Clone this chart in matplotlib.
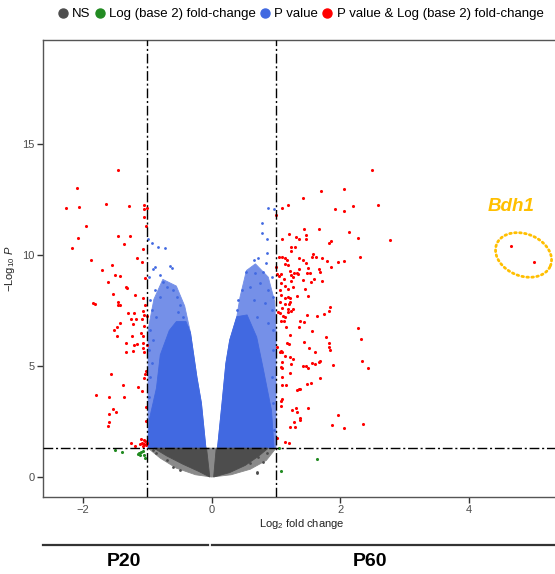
import numpy as np
import matplotlib.pyplot as plt
from matplotlib.lines import Line2D

plt.rcParams["font.family"] = ["Liberation Sans", "DejaVu Sans"]
plt.rcParams["mathtext.fontset"] = "custom"
plt.rcParams["mathtext.rm"] = "Liberation Sans"
plt.rcParams["mathtext.it"] = "Liberation Sans:italic"

# cut-offs
fc_cut = 1.0
p_cut = -np.log10(0.05)

# significant by both (red): (log2FC, -log10 P)
red_left = np.array([
    (-1.46, 13.81), (-2.10, 13.01), (-2.26, 12.11), (-2.07, 12.16), (-1.64, 12.31),
    (-1.28, 12.21), (-1.06, 12.26), (-1.06, 12.06), (-1.01, 12.11), (-1.05, 11.71),
    (-1.02, 11.31), (-1.95, 11.31), (-2.08, 10.76), (-1.45, 10.86), (-1.27, 10.86),
    (-1.37, 10.51), (-2.18, 10.31), (-1.07, 10.26), (-1.16, 9.88), (-1.87, 9.79),
    (-1.08, 9.70), (-1.55, 9.56), (-1.71, 9.32), (-1.50, 9.08), (-1.43, 9.05),
    (-1.03, 8.96), (-1.61, 8.80), (-1.34, 8.54), (-1.31, 8.53), (-1.54, 8.24),
    (-1.19, 8.20), (-1.07, 8.08), (-1.45, 7.90), (-1.84, 7.85), (-1.81, 7.78),
    (-1.45, 7.73), (-1.42, 7.73), (-1.03, 7.73), (-1.07, 7.49), (-1.30, 7.37),
    (-1.21, 7.37), (-1.05, 7.30), (-1.01, 7.25), (-1.25, 7.12), (-1.17, 7.12),
    (-1.09, 7.12), (-1.23, 6.89), (-1.43, 6.94), (-1.05, 6.79), (-1.47, 6.74),
    (-1.52, 6.61), (-1.10, 6.50), (-1.47, 6.37), (-1.24, 6.35), (-1.07, 6.35),
    (-1.33, 6.05), (-1.21, 5.96), (-1.16, 5.99), (-1.07, 6.02), (-1.00, 5.96),
    (-1.07, 5.80), (-1.23, 5.69), (-1.33, 5.64), (-1.05, 5.62), (-1.02, 4.77),
    (-1.57, 4.64), (-1.04, 4.64), (-1.05, 4.46), (-1.38, 4.14), (-1.15, 4.04),
    (-1.09, 3.87), (-1.80, 3.71), (-1.59, 3.62), (-1.36, 3.62), (-1.02, 3.17),
    (-1.54, 3.08), (-1.49, 2.93), (-1.60, 2.84), (-1.02, 2.54), (-1.60, 2.49),
    (-1.62, 2.28), (-1.26, 1.55), (-1.20, 1.41), (-1.10, 1.70), (-1.09, 1.55),
    (-1.06, 1.49), (-1.03, 1.61), (-1.02, 1.43), (-1.07, 1.40), (-1.00, 1.52),
    (-1.05, 1.67), (-1.12, 1.49),
])

red_right = np.array([
    (2.50, 13.83), (1.70, 12.87), (2.06, 12.99), (1.42, 12.58), (1.19, 12.27),
    (1.09, 12.10), (1.00, 11.82), (1.91, 12.09), (2.05, 11.98), (2.20, 12.19),
    (2.59, 12.27), (1.44, 11.17), (1.67, 11.16), (2.14, 11.02), (1.20, 10.95),
    (1.47, 10.90), (1.31, 10.81), (1.10, 10.73), (1.36, 10.72), (1.46, 10.71),
    (2.28, 10.77), (2.78, 10.68), (1.85, 10.64), (1.82, 10.55), (1.24, 10.36),
    (1.29, 10.36), (1.23, 10.18), (1.58, 10.06), (1.56, 9.92), (1.62, 9.90),
    (1.05, 9.90), (1.09, 9.92), (1.14, 9.85), (1.17, 9.77), (1.35, 9.86),
    (1.42, 9.79), (1.71, 9.86), (1.79, 9.74), (1.97, 9.67), (2.06, 9.73),
    (2.30, 9.92), (1.14, 9.59), (1.18, 9.55), (1.00, 9.47), (1.46, 9.63),
    (1.50, 9.43), (1.67, 9.38), (1.68, 9.25), (1.86, 9.45), (1.36, 9.38),
    (1.22, 9.29), (1.28, 9.20), (1.32, 9.20), (1.23, 9.09), (1.26, 9.00),
    (1.34, 9.16), (1.48, 9.19), (1.53, 9.18), (1.02, 9.13), (1.05, 9.07),
    (1.08, 9.14), (1.13, 8.91), (1.42, 8.89), (1.59, 8.93), (1.72, 8.83),
    (1.55, 8.78), (1.23, 8.84), (1.08, 8.73), (1.14, 8.60), (1.27, 8.56),
    (1.18, 8.45), (1.45, 8.45), (1.06, 8.41), (1.07, 8.20), (1.32, 8.17),
    (1.50, 8.17), (1.14, 8.08), (1.18, 8.09), (1.22, 8.08), (1.06, 7.87),
    (1.14, 7.81), (1.20, 7.81), (1.22, 7.90), (1.84, 7.64), (1.83, 7.46),
    (1.10, 7.63), (1.18, 7.58), (1.26, 7.58), (1.03, 7.45), (1.06, 7.37),
    (1.19, 7.43), (1.23, 7.46), (1.48, 7.28), (1.64, 7.27), (1.75, 7.33),
    (1.11, 7.25), (1.14, 7.19), (1.07, 7.04), (1.13, 7.03), (1.37, 7.01),
    (1.43, 6.98), (1.16, 6.76), (1.36, 6.74), (2.28, 6.73), (1.56, 6.56),
    (1.21, 6.38), (1.77, 6.29), (2.32, 6.22), (1.44, 6.07), (1.83, 6.04),
    (1.17, 6.05), (1.20, 5.99), (1.52, 5.82), (1.83, 5.84), (1.02, 5.87),
    (1.07, 5.68), (1.10, 5.64), (1.06, 5.62), (1.61, 5.64), (1.84, 5.71),
    (1.14, 5.46), (1.22, 5.39), (1.26, 5.30), (1.68, 5.24), (1.67, 5.18),
    (2.33, 5.21), (1.10, 5.18), (1.56, 5.14), (1.61, 5.10), (1.24, 5.09),
    (1.42, 5.01), (1.46, 5.01), (1.89, 5.03), (1.49, 4.90), (1.08, 4.97),
    (1.09, 4.92), (2.43, 4.91), (1.21, 4.67), (1.09, 4.49), (1.69, 4.46),
    (1.54, 4.23), (1.48, 4.20), (1.10, 4.14), (1.16, 4.16), (1.37, 3.98),
    (1.35, 3.95), (1.33, 3.92), (1.10, 3.50), (1.07, 3.44), (1.08, 3.20),
    (1.31, 3.12), (1.49, 3.09), (1.25, 3.02), (1.32, 2.91), (1.96, 2.81),
    (1.38, 2.64), (1.37, 2.58), (1.28, 2.46), (1.87, 2.33), (2.35, 2.39),
    (2.06, 2.21), (1.21, 2.27), (1.30, 2.25), (1.01, 1.74), (1.14, 1.59),
    (1.20, 1.53),
])

red_bdh1 = np.array([(4.65, 10.42), (5.01, 9.67)])

# fold change only (green)
green_pts = np.array([
    (-1.51, 1.22), (-1.40, 1.13), (-1.13, 1.07), (-1.10, 1.13), (-1.07, 1.18),
    (-1.05, 1.00), (-1.04, 0.86), (-1.14, 1.04), (-1.11, 0.99),
    (1.05, 1.32), (1.07, 0.28), (1.64, 0.81),
])

# P value only (blue): outline of the dense cloud, its sparser halo, and loose points
blue_left_core = np.array([
    (-0.99, 1.31), (-0.97, 2.60), (-0.86, 4.00), (-0.80, 5.50), (-0.66, 6.60),
    (-0.55, 7.00), (-0.40, 7.00), (-0.33, 6.50), (-0.23, 4.50), (-0.16, 3.33),
    (-0.09, 1.31),
])
blue_left_halo = np.array([
    (-0.99, 1.31), (-0.99, 6.62), (-0.90, 8.00), (-0.76, 8.90), (-0.55, 8.60),
    (-0.42, 7.70), (-0.33, 6.50), (-0.23, 4.50), (-0.16, 3.33), (-0.09, 1.31),
])
blue_right_core = np.array([
    (0.09, 1.31), (0.16, 3.32), (0.22, 5.12), (0.28, 6.17), (0.39, 7.22),
    (0.55, 7.30), (0.70, 6.30), (0.80, 4.90), (0.93, 3.00), (0.97, 1.31),
])
blue_right_halo = np.array([
    (0.09, 1.31), (0.16, 3.32), (0.22, 5.12), (0.28, 6.17), (0.39, 7.22),
    (0.44, 8.10), (0.54, 9.30), (0.68, 9.60), (0.88, 9.00), (0.98, 7.90),
    (1.00, 6.62), (1.00, 1.31),
])
blue_sparse = np.array([
    (-0.99, 10.71), (-0.93, 10.55), (-0.83, 10.37), (-0.73, 10.30), (-0.88, 9.47),
    (-0.91, 9.36), (-0.65, 9.50), (-0.61, 9.40), (-0.80, 9.10), (-0.97, 9.00),
    (-0.75, 8.80), (-0.70, 8.57), (-0.88, 8.42), (-0.60, 8.42), (-0.54, 8.12),
    (-0.96, 7.97), (-0.80, 8.12), (-0.49, 7.75), (-0.52, 7.45), (-0.93, 7.52),
    (-0.86, 7.22), (-0.44, 7.22), (-0.39, 6.77), (-0.96, 6.62), (-0.91, 6.17),
    (-0.97, 5.72), (-0.93, 5.12), (-0.96, 4.52), (-0.97, 3.62), (-0.94, 2.72),
    (-0.96, 2.12), (-0.91, 1.82),
    (0.88, 12.10), (0.97, 12.07), (0.78, 11.43), (0.78, 11.00), (0.86, 10.71),
    (0.65, 9.77), (0.72, 9.85), (0.84, 9.65), (0.86, 10.08), (0.54, 9.25),
    (0.67, 9.18), (0.80, 9.25), (0.93, 9.02), (0.47, 8.42), (0.60, 8.57),
    (0.75, 8.73), (0.88, 8.42), (0.96, 8.12), (0.41, 7.97), (0.65, 7.97),
    (0.83, 7.82), (0.93, 7.52), (0.39, 7.52), (0.70, 7.22), (0.88, 6.92),
    (0.96, 6.62), (0.34, 6.62), (0.96, 5.72), (0.93, 4.52), (0.96, 3.32),
    (0.97, 2.12),
])

# not significant (grey)
grey_halo = np.array([
    (-0.99, 1.30), (-0.80, 0.85), (-0.55, 0.40), (-0.25, 0.10), (0.00, 0.00),
    (0.30, 0.10), (0.60, 0.35), (0.85, 0.75), (1.00, 1.30),
])
grey_left_core = np.array([
    (-0.90, 1.30), (-0.70, 0.95), (-0.45, 0.58), (-0.20, 0.25), (-0.03, 0.00),
    (-0.08, 1.30),
])
grey_right_core = np.array([
    (0.07, 1.30), (0.03, 0.00), (0.28, 0.20), (0.52, 0.52), (0.72, 0.92),
    (0.88, 1.30),
])
grey_sparse = np.array([
    (-0.86, 1.07), (-0.70, 0.77), (-0.60, 0.46), (-0.49, 0.32), (-0.91, 1.22),
    (0.60, 0.62), (0.70, 0.24), (0.72, 0.91), (0.86, 1.07), (0.70, 0.17),
    (0.80, 0.69),
])

c_ns = "#4d4d4d"
c_fc = "#228b22"
c_p = "#4169e1"
c_both = "#ff0000"
c_halo = "#7590e8"
c_ns_halo = "#8a8a8a"
c_gold = "#ffbf00"

fig = plt.figure(figsize=(5.55, 5.74), dpi=100)
ax = fig.add_axes([43 / 555, 77 / 574, 517 / 555, 457 / 574])
ax.set_xlim(-2.624, 5.417)
ax.set_ylim(-0.90, 19.68)

# clouds
for poly, col in [(blue_left_halo, c_halo), (blue_right_halo, c_halo),
                  (grey_halo, c_ns_halo),
                  (blue_left_core, c_p), (blue_right_core, c_p),
                  (grey_left_core, c_ns), (grey_right_core, c_ns)]:
    ax.fill(poly[:, 0], poly[:, 1], color=col, lw=0.6, ec=col, zorder=1)

ax.scatter(blue_sparse[:, 0], blue_sparse[:, 1], s=4, c=c_p, lw=0, zorder=2)
ax.scatter(grey_sparse[:, 0], grey_sparse[:, 1], s=4, c=c_ns, lw=0, zorder=2)
ax.scatter(green_pts[:, 0], green_pts[:, 1], s=5, c=c_fc, lw=0, zorder=3)
reds = np.vstack([red_left, red_right, red_bdh1])
ax.scatter(reds[:, 0], reds[:, 1], s=5, c=c_both, lw=0, zorder=3)

# cut-off lines
dash = (0, (7, 2, 1.5, 2))
for xv in (-fc_cut, fc_cut):
    ax.axvline(xv, color="black", lw=1.0, ls=dash, zorder=4)
ax.axhline(p_cut, color="black", lw=1.0, ls=dash, zorder=4)

# Bdh1 callout
ax.text(4.65, 12.16, "Bdh1", color=c_gold, fontsize=13.5, fontstyle="italic",
        fontweight="bold", ha="center", va="center")
bb = ax.get_window_extent()
sx = bb.width / (ax.get_xlim()[1] - ax.get_xlim()[0])
sy = bb.height / (ax.get_ylim()[1] - ax.get_ylim()[0])
t = np.linspace(0, 2 * np.pi, 200)
a, b, th = 29.0, 21.0, np.deg2rad(-22)
ex = 4.85 + (a * np.cos(t) * np.cos(th) - b * np.sin(t) * np.sin(th)) / sx
ey = 10.0 + (a * np.cos(t) * np.sin(th) + b * np.sin(t) * np.cos(th)) / sy
ax.plot(ex, ey, color=c_gold, lw=2.0, ls=(0, (0.6, 1.2)), dash_capstyle="round",
        zorder=4)

# axes styling
for sp in ax.spines.values():
    sp.set_color("#555555")
    sp.set_linewidth(1.0)
ax.set_xticks([-2, 0, 2, 4])
ax.set_yticks([0, 5, 10, 15])
ax.tick_params(colors="#333333", labelcolor="#4d4d4d", labelsize=8, length=4,
               width=1.0, pad=2)
ax.set_xlabel(r"Log$_{2}$ fold change", fontsize=8, color="#222222", labelpad=1)
ax.set_ylabel(r"$-\mathrm{Log}_{10}\ \mathit{P}$", fontsize=8, color="#222222")
ax.yaxis.set_label_coords(-0.05, 0.5)

# group bars under the x axis
tr = ax.get_xaxis_transform()
xl = ax.get_xlim()
ax.plot([xl[0], -0.05], [-0.105, -0.105], transform=tr, color="#333333", lw=1.6,
        clip_on=False)
ax.plot([0.0, xl[1]], [-0.105, -0.105], transform=tr, color="#333333", lw=1.6,
        clip_on=False)
ax.text(-1.36, -0.142, "P20", transform=tr, fontsize=14, fontweight="bold",
        ha="center", va="center")
ax.text(2.46, -0.142, "P60", transform=tr, fontsize=14, fontweight="bold",
        ha="center", va="center")

# legend
handles = [Line2D([], [], marker="o", ls="", color=c, markersize=6.5)
           for c in (c_ns, c_fc, c_p, c_both)]
labels = ["NS", "Log (base 2) fold-change", "P value",
          "P value & Log (base 2) fold-change"]
fig.legend(handles, labels, loc="center", bbox_to_anchor=(0.54, 0.9756), ncol=4,
           frameon=False, fontsize=9.5, handletextpad=0.2, columnspacing=0.2,
           handlelength=1.0, borderaxespad=0)

fig.savefig("out.png", dpi=100)
